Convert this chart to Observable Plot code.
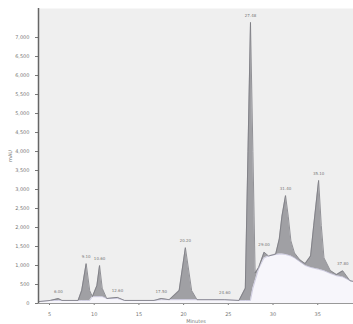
<!DOCTYPE html>
<html><head><meta charset="utf-8">
<script src="https://cdn.jsdelivr.net/npm/d3@7"></script>
<script src="https://cdn.jsdelivr.net/npm/@observablehq/plot@0.6"></script>
<style>body{margin:0;background:#fff;font-family:"DejaVu Sans",sans-serif}</style>
</head><body><div id="chart"></div>
<script>
const times = [3.77,5.1,6.0,6.4,8.2,8.6,9.1,9.5,9.8,10.3,10.6,10.9,11.4,12.6,13.4,16.7,17.5,18.4,19.5,20.2,20.9,21.5,24.6,26.2,26.9,27.2,27.48,27.75,28.0,28.4,29.0,29.5,30.3,30.7,31.0,31.4,31.7,32.0,32.4,33.0,33.6,34.2,34.55,35.1,35.4,35.7,36.4,37.1,37.8,38.6,39.0];
const signal = [50,80,130,80,80,340,1050,340,180,470,1000,400,130,160,80,80,130,100,340,1470,340,100,100,80,400,4000,7400,4000,800,950,1350,1250,1300,1700,2300,2840,2300,1650,1330,1150,1050,1250,2050,3240,2050,1200,870,760,860,600,580];
const baseline = [50,80,80,80,80,80,80,80,180,180,180,180,130,130,80,80,100,100,100,100,100,100,100,80,80,80,80,400,600,920,1200,1250,1290,1300,1300,1290,1270,1250,1200,1100,1000,950,930,900,880,860,790,730,700,600,580];
const peakTimes = [6.0,9.1,10.6,12.6,17.5,20.2,24.6,27.48,29.0,31.4,35.1,37.8];
const peakLabels = ["6.00","9.10","10.60","12.60","17.50","20.20","24.60","27.48","29.00","31.40","35.10","37.80"];
const peakHeights = [130,1050,1000,160,130,1470,100,7400,1350,2840,3240,860];
const xTicks = [5,10,15,20,25,30,35];
const yTicks = [0,500,1000,1500,2000,2500,3000,3500,4000,4500,5000,5500,6000,6500,7000];

const pts = times.map((t,i)=>({t, v: signal[i], b: baseline[i]}));
const peaks = peakTimes.map((t,i)=>({t, v: peakHeights[i], label: peakLabels[i]}));

const chart = Plot.plot({
  width: 353, height: 324,
  marginLeft: 38, marginRight: 0, marginTop: 8, marginBottom: 21,
  style: {fontSize: "5px", fontFamily: "DejaVu Sans", background: "#fff", color: "#777"},
  x: {domain: [3.77, 39.0], ticks: xTicks, tickSize: 2, label: "Minutes", labelAnchor: "center", labelOffset: 19, labelArrow: "none"},
  y: {domain: [0, 7764], ticks: yTicks, tickSize: 3, label: "mAU", labelAnchor: "center", labelOffset: 30, labelArrow: "none"},
  marks: [
    Plot.frame({fill: "#efefef", stroke: null}),
    Plot.areaY(pts, {x: "t", y: "v", fill: "#f7f6fb"}),
    Plot.areaY(pts, {x: "t", y1: "b", y2: "v", fill: "#a0a0a4"}),
    Plot.line(pts, {x: "t", y: "b", stroke: "#bdbad6", strokeWidth: 0.7}),
    Plot.line(pts, {x: "t", y: "v", stroke: "#7a7a80", strokeWidth: 0.8}),
    Plot.text(peaks, {x: "t", y: "v", text: "label", dy: -7, fill: "#777", fontSize: 4}),
    Plot.ruleY([0], {stroke: "#999"}),
    Plot.ruleX([3.77], {stroke: "#666", strokeWidth: 1.5})
  ]
});
document.getElementById("chart").appendChild(chart);
</script></body></html>
